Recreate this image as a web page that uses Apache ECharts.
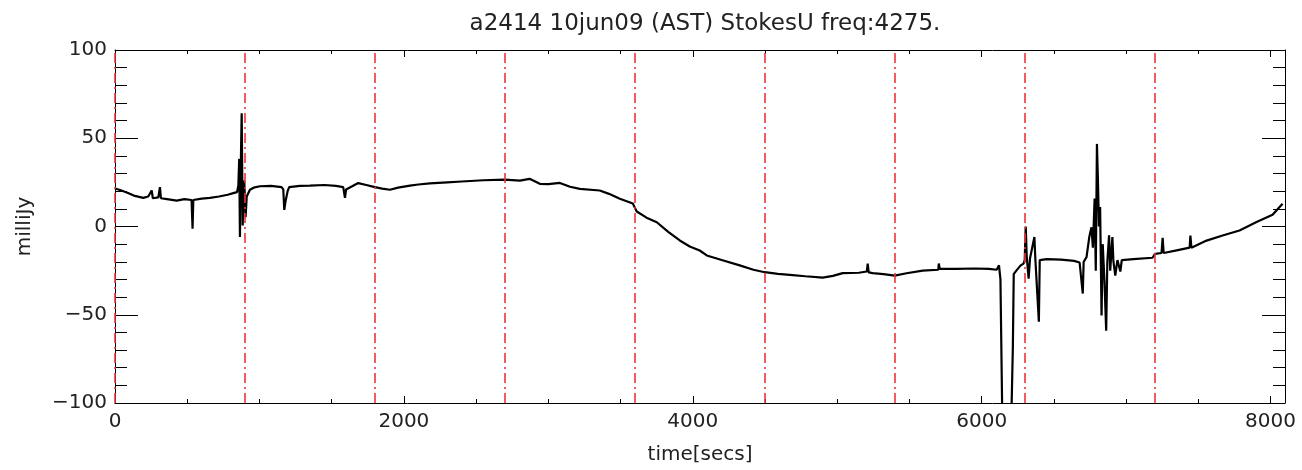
<!DOCTYPE html>
<html>
    <head>
        <meta charset="UTF-8">
        <title>StokesU</title>
        <script src="https://cdn.jsdelivr.net/npm/echarts@6/dist/echarts.min.js"></script>
    </head>
    <body style="margin:0">
        <div id="main" style="width:1302px;height:470px;"></div>
        <script>
            // time (secs) and StokesU (milliJy)
            var timeSec = [
                0, 40, 90, 130, 196, 230, 254, 262, 300, 311, 318, 360, 427, 480, 530, 537, 542, 600, 657, 720,
                780, 819, 845, 854, 860, 865, 870, 877, 884, 890, 895, 904, 912, 925, 934, 960, 1003, 1080, 1153, 1165,
                1172, 1180, 1195, 1206, 1280, 1349, 1450, 1530, 1580, 1592, 1600, 1684, 1740, 1799, 1850, 1903, 1960, 2042, 2100, 2180,
                2300, 2400, 2550, 2699, 2803, 2870, 2941, 3000, 3080, 3150, 3218, 3356, 3420, 3495, 3585, 3612, 3680, 3751, 3830, 3910,
                3979, 4048, 4097, 4200, 4325, 4420, 4498, 4590, 4671, 4780, 4900, 4970, 5038, 5150, 5205, 5211, 5218, 5246, 5320, 5398,
                5480, 5592, 5700, 5703, 5710, 5827, 5950, 6050, 6104, 6120, 6130, 6143, 6205, 6216, 6222, 6240, 6270, 6290, 6298, 6305,
                6312, 6325, 6335, 6365, 6372, 6396, 6402, 6450, 6550, 6640, 6678, 6700, 6706, 6726, 6745, 6760, 6770, 6782, 6790, 6798,
                6805, 6812, 6820, 6830, 6838, 6850, 6862, 6870, 6882, 6890, 6905, 6912, 6925, 6940, 6960, 6970, 7050, 7183, 7200, 7245,
                7253, 7260, 7350, 7440, 7445, 7452, 7557, 7668, 7785, 7903, 8014, 8083
            ];
            var stokesU = [
                21.5, 20.5, 19, 17.5, 16.2, 17, 20.4, 16, 16.5, 22.3, 16, 15.5, 14.7, 15.5, 15, -1.3, 15, 15.8, 16.2, 17,
                18, 18.9, 19.5, 23.2, 38.3, -6, 30, 64.2, 0.6, 20, 26, 5.3, 17, 18, 20.8, 22, 22.8, 23, 22.3, 21,
                9.4, 14, 20, 22.3, 23, 23.2, 23.5, 23, 22.3, 16.2, 21, 24.6, 23.5, 22.3, 21.5, 20.8, 22, 23.2, 23.8, 24.4,
                25, 25.5, 26.2, 26.6, 26, 27, 24.2, 24, 24.7, 22.5, 21.3, 20.4, 18.5, 15.7, 13, 8.5, 5, 2.4, -3, -7.9,
                -11.3, -13.6, -16.4, -19, -22, -24.5, -25.9, -26.8, -27.4, -28.2, -29, -28, -26.4, -26.2, -25.5, -21, -26, -26.4, -27, -27.8,
                -26.5, -25, -24.5, -21, -24, -24, -23.8, -24, -24.5, -22, -30, -110, -110, -68, -27, -25, -22, -21, -19, 0,
                -17, -29.5, -18, -6, -19, -54, -19, -18.5, -18.8, -19.5, -20.4, -38, -20, -17.4, -6, -0.4, -12, 15.8, -25, 46.8,
                26, 0, 11, -50.4, -10, -30.6, -59, -20, -5, -25, -6, -19.6, -27.8, -19, -25.5, -19, -18.5, -17.7, -15.5, -15,
                -6.4, -15, -13.5, -12, -5.1, -12, -8, -5.1, -2.3, 2.5, 6.6, 12.9
            ];
            // red dash-dot markers every 900 secs
            var markerTimes = [0, 900, 1800, 2700, 3600, 4500, 5400, 6300, 7200];

            var pts = [];
            for (var i = 0; i < timeSec.length; i++) {
                pts.push([timeSec[i], stokesU[i]]);
            }

            var fontName = 'DejaVu Sans';
            var txt = '#222';
            var red = '#f2333a';

            function xAx(pos, showLabel) {
                return {
                    type: 'value', position: pos, min: 0, max: 8100, interval: 2000,
                    axisLine: { show: true, onZero: false, lineStyle: { color: '#000', width: 1 } },
                    axisTick: { show: true, inside: true, length: 7, lineStyle: { color: '#000' } },
                    minorTick: { show: true, splitNumber: 4, length: 4, lineStyle: { color: '#000' } },
                    axisLabel: {
                        show: showLabel, showMaxLabel: false, margin: 9, fontSize: 20, color: txt, fontFamily: fontName,
                        formatter: function (v) { return String(v); }
                    },
                    splitLine: { show: false },
                    name: showLabel ? 'time[secs]' : '',
                    nameLocation: 'middle', nameGap: 42,
                    nameTextStyle: { fontSize: 20, color: txt, fontFamily: fontName }
                };
            }
            function yAx(pos, showLabel) {
                return {
                    type: 'value', position: pos, min: -100, max: 100, interval: 50,
                    axisLine: { show: true, onZero: false, lineStyle: { color: '#000', width: 1 } },
                    axisTick: { show: true, inside: true, length: 23, lineStyle: { color: '#000' } },
                    minorTick: { show: true, splitNumber: 5, length: 12, lineStyle: { color: '#000' } },
                    axisLabel: {
                        show: showLabel, margin: 8, fontSize: 20, color: txt, fontFamily: fontName,
                        formatter: function (v) { return String(v).replace('-', '\u2212'); }
                    },
                    splitLine: { show: false },
                    name: showLabel ? 'milliJy' : '',
                    nameLocation: 'middle', nameGap: 80,
                    nameTextStyle: { fontSize: 20, color: txt, fontFamily: fontName }
                };
            }

            var chart = echarts.init(document.getElementById('main'));
            chart.setOption({
                animation: false,
                backgroundColor: '#fff',
                title: {
                    text: 'a2414 10jun09 (AST) StokesU freq:4275.',
                    left: 700, top: 8, textAlign: 'center',
                    textStyle: { fontSize: 23, fontWeight: 'normal', color: txt, fontFamily: fontName }
                },
                grid: { left: 115, right: 17, top: 50, bottom: 67 },
                xAxis: [xAx('bottom', true), xAx('top', false)],
                yAxis: [yAx('left', true), yAx('right', false)],
                series: [{
                    type: 'line',
                    data: pts,
                    showSymbol: false,
                    clip: true,
                    z: 3,
                    lineStyle: { color: '#000', width: 2.2 }
                }, {
                    type: 'line',
                    data: [],
                    z: 2,
                    color: red,
                    markLine: {
                        silent: true,
                        symbol: ['none', 'none'],
                        label: { show: false },
                        lineStyle: { color: red, width: 1.6, type: [10, 4, 2, 4], opacity: 1 },
                        data: markerTimes.map(function (t) {
                            return { xAxis: t, lineStyle: { color: red } };
                        })
                    }
                }]
            });
        </script>
    </body>
</html>
